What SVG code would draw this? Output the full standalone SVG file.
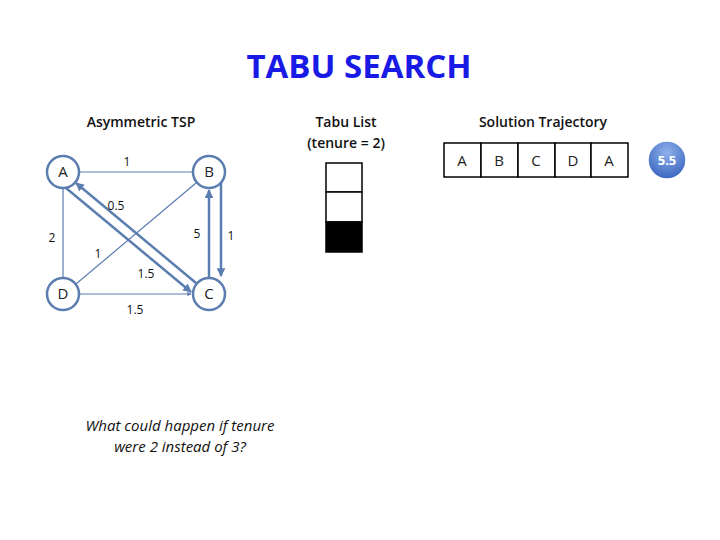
<svg xmlns="http://www.w3.org/2000/svg" width="720" height="540" viewBox="0 0 720 540">
<style>
text{font-family:"Open Sans","Liberation Sans",sans-serif;}
.n{fill:#fff;stroke:#5b7db0;stroke-width:2.5}
.nl{font-size:15px;fill:#222;text-anchor:middle}
.e{stroke:#5b7db0;fill:none;stroke-width:1.2}
.t{stroke:#5b7db0;fill:none;stroke-width:2.5}
.w{font-size:12px;fill:#111;text-anchor:middle}
.h{font-size:14px;fill:#111;text-anchor:middle;font-weight:600}
.cell{fill:#fff;stroke:#000;stroke-width:1.5}
</style>
<defs>
<marker id="ar" viewBox="0 0 10 10" refX="9" refY="5" markerWidth="3.5" markerHeight="3.5" orient="auto"><path d="M0,0L10,5L0,10z" fill="#5b7db0"/></marker>
<radialGradient id="g" cx="0.5" cy="0.3" r="0.7"><stop offset="0" stop-color="#8fb0ea"/><stop offset="1" stop-color="#3a66c0"/></radialGradient>
</defs>
<rect width="720" height="540" fill="#fff"/>
<text x="359" y="78" font-size="33" font-weight="bold" fill="#1a1ae6" text-anchor="middle">TABU SEARCH</text>
<text class="h" x="141" y="127">Asymmetric TSP</text>
<text class="h" x="346" y="127">Tabu List</text>
<text class="h" x="346" y="148">(tenure = 2)</text>
<text class="h" x="543" y="127">Solution Trajectory</text>
<g id="connectors">
<line class="e" x1="79" y1="172" x2="193" y2="172"/>
<line class="e" x1="63" y1="188" x2="63" y2="278"/>
<line class="e" x1="79" y1="294" x2="191" y2="294" marker-end="url(#ar)"/>
<line class="e" x1="76" y1="284" x2="196" y2="183" stroke-width="0.9"/>
<line class="t" x1="66" y1="188" x2="191" y2="292" marker-end="url(#ar)"/>
<line class="t" x1="196" y1="283" x2="76" y2="183" marker-end="url(#ar)"/>
<line class="t" x1="209" y1="278" x2="209" y2="190" marker-end="url(#ar)"/>
<line class="t" x1="221" y1="181" x2="221" y2="276" marker-end="url(#ar)"/>
</g>
<text class="w" x="127" y="166">1</text>
<text class="w" x="116" y="210">0.5</text>
<text class="w" x="52" y="242">2</text>
<text class="w" x="197" y="238">5</text>
<text class="w" x="231" y="240">1</text>
<text class="w" x="98" y="258">1</text>
<text class="w" x="146" y="278">1.5</text>
<text class="w" x="135" y="314">1.5</text>
<g id="A"><circle class="n" cx="63" cy="172" r="16"/><text class="nl" x="63" y="177">A</text></g>
<g id="B"><circle class="n" cx="209" cy="172" r="16"/><text class="nl" x="209" y="177">B</text></g>
<g id="C"><circle class="n" cx="209" cy="294" r="16"/><text class="nl" x="209" y="299">C</text></g>
<g id="D"><circle class="n" cx="63" cy="294" r="16"/><text class="nl" x="63" y="299">D</text></g>
<g id="tabu">
<rect class="cell" x="326" y="163" width="36" height="29"/>
<rect class="cell" x="326" y="192" width="36" height="30"/>
<rect x="326" y="222" width="36" height="30" fill="#000" stroke="#000" stroke-width="1.5"/>
</g>
<g id="trajectory">
<rect class="cell" x="444" y="143" width="37" height="34"/>
<rect class="cell" x="481" y="143" width="37" height="34"/>
<rect class="cell" x="518" y="143" width="37" height="34"/>
<rect class="cell" x="555" y="143" width="36" height="34"/>
<rect class="cell" x="591" y="143" width="37" height="34"/>
<text class="nl" x="462" y="166">A</text>
<text class="nl" x="499" y="166">B</text>
<text class="nl" x="536" y="166">C</text>
<text class="nl" x="573" y="166">D</text>
<text class="nl" x="609" y="166">A</text>
</g>
<g id="cost"><circle cx="667" cy="160" r="19" fill="url(#g)" stroke="#fff" stroke-width="1.5"/><text x="667" y="165" font-size="13" font-weight="bold" fill="#fff" text-anchor="middle">5.5</text></g>
<text x="180" y="431" font-size="15" font-style="italic" fill="#111" text-anchor="middle">What could happen if tenure</text>
<text x="180" y="452" font-size="15" font-style="italic" fill="#111" text-anchor="middle">were 2 instead of 3?</text>
</svg>
